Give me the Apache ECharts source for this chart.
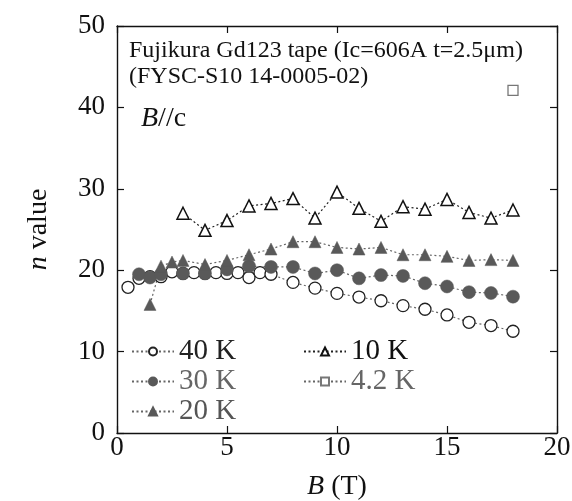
<!DOCTYPE html>
<html>
<head>
<meta charset="utf-8">
<script src="https://cdn.jsdelivr.net/npm/echarts@6/dist/echarts.min.js"></script>
<style>
  html, body { margin: 0; padding: 0; background: #fff; }
  #chart { width: 572px; height: 501px; }
</style>
</head>
<body>
<div id="chart"></div>
<script>
// n value vs applied field B for each temperature
const b40 = [0.5, 1, 1.5, 2, 2.5, 3, 3.5, 4, 4.5, 5, 5.5, 6, 6.5, 7, 8, 9, 10, 11, 12, 13, 14, 15, 16, 17, 18];
const n40 = [17.9, 19.0, 19.2, 19.2, 19.8, 19.6, 19.7, 19.6, 19.7, 19.6, 19.7, 19.1, 19.7, 19.5, 18.5, 17.8, 17.15, 16.7, 16.25, 15.65, 15.2, 14.5, 13.6, 13.2, 12.5];

const b30 = [1, 1.5, 2, 3, 4, 5, 6, 7, 8, 9, 10, 11, 12, 13, 14, 15, 16, 17, 18];
const n30 = [19.5, 19.1, 19.5, 19.6, 19.6, 20.1, 20.5, 20.4, 20.4, 19.6, 20.0, 19.0, 19.4, 19.3, 18.4, 18.0, 17.3, 17.2, 16.75];

const b20 = [1.5, 2, 2.5, 3, 4, 5, 6, 7, 8, 9, 10, 11, 12, 13, 14, 15, 16, 17, 18];
const n20 = [15.8, 20.5, 21.0, 21.2, 20.7, 21.2, 21.9, 22.6, 23.5, 23.5, 22.8, 22.6, 22.8, 21.9, 21.9, 21.7, 21.2, 21.3, 21.2];

const b10 = [3, 4, 5, 6, 7, 8, 9, 10, 11, 12, 13, 14, 15, 16, 17, 18];
const n10 = [27.0, 24.9, 26.1, 27.9, 28.2, 28.8, 26.4, 29.6, 27.6, 26.0, 27.8, 27.5, 28.7, 27.1, 26.4, 27.4];

const b4 = [18];
const n4 = [42.1];

const xTicks = [0, 5, 10, 15, 20];
const yTicks = [0, 10, 20, 30, 40, 50];

const FONT = "'Liberation Serif', 'Times New Roman', serif";
const pair = (xs, ys) => xs.map((x, i) => [x, ys[i]]);
const dotted = { type: [2, 2.5], color: '#666', width: 1.2 };

const chart = echarts.init(document.getElementById('chart'), null, { renderer: 'canvas' });

const axisBase = {
  type: 'value',
  axisLine: { show: true, onZero: false, lineStyle: { color: '#111', width: 1.4 } },
  axisTick: { show: true, inside: true, length: 7, lineStyle: { color: '#111', width: 1.2 } },
  splitLine: { show: false }
};

chart.setOption({
  animation: false,
  backgroundColor: '#fff',
  textStyle: { fontFamily: FONT },
  grid: { left: 117, top: 26, right: 15, bottom: 68, containLabel: false, outerBoundsMode: 'none' },
  title: [
    {
      text: 'Fujikura Gd123 tape (Ic=606A t=2.5μm)',
      left: 124, top: 34,
      textStyle: { fontFamily: FONT, fontSize: 24, fontWeight: 'normal', color: '#111' }
    },
    {
      text: '(FYSC-S10 14-0005-02)',
      left: 124, top: 60,
      textStyle: { fontFamily: FONT, fontSize: 24, fontWeight: 'normal', color: '#111' }
    },
    {
      text: '{i|B}{r|//c}',
      left: 136, top: 100,
      textStyle: {
        fontFamily: FONT, fontSize: 28, fontWeight: 'normal', color: '#111',
        rich: {
          i: { fontFamily: FONT, fontSize: 28, fontStyle: 'italic', color: '#111' },
          r: { fontFamily: FONT, fontSize: 28, color: '#111' }
        }
      }
    }
  ],
  xAxis: [
    Object.assign({}, axisBase, {
      min: 0, max: 20, interval: 5,
      name: '{i|B}{r| (T)}', nameLocation: 'middle', nameGap: 40,
      nameTextStyle: {
        fontFamily: FONT, fontSize: 28, color: '#111',
        rich: {
          i: { fontFamily: FONT, fontSize: 28, fontStyle: 'italic', color: '#111' },
          r: { fontFamily: FONT, fontSize: 28, color: '#111' }
        }
      },
      axisLabel: {
        fontFamily: FONT, fontSize: 27, color: '#111', margin: 1,
        formatter: v => xTicks.includes(v) ? String(v) : ''
      }
    }),
    Object.assign({}, axisBase, {
      min: 0, max: 20, interval: 5, position: 'top',
      axisLabel: { show: false }
    })
  ],
  yAxis: [
    Object.assign({}, axisBase, {
      min: 0, max: 50, interval: 10,
      name: '{i|n}{r| value}', nameLocation: 'middle', nameGap: 64, nameRotate: 90,
      nameTextStyle: {
        fontFamily: FONT, fontSize: 28, color: '#111',
        rich: {
          i: { fontFamily: FONT, fontSize: 28, fontStyle: 'italic', color: '#111' },
          r: { fontFamily: FONT, fontSize: 28, color: '#111' }
        }
      },
      axisLabel: {
        fontFamily: FONT, fontSize: 27, color: '#111', margin: 12,
        formatter: v => yTicks.includes(v) ? String(v) : ''
      }
    }),
    Object.assign({}, axisBase, {
      min: 0, max: 50, interval: 10, position: 'right',
      axisLabel: { show: false }
    })
  ],
  legend: [
    {
      orient: 'vertical', left: 131, top: 337,
      itemWidth: 42, itemHeight: 10, itemGap: 1, itemTextGap: 4, padding: 0,
      textStyle: { fontFamily: FONT, fontSize: 29 },
      data: [
        { name: '40 K', textStyle: { fontFamily: FONT, fontSize: 29, color: '#222' } },
        { name: '30 K', textStyle: { fontFamily: FONT, fontSize: 29, color: '#666' } },
        { name: '20 K', textStyle: { fontFamily: FONT, fontSize: 29, color: '#555' } }
      ]
    },
    {
      orient: 'vertical', left: 303, top: 337,
      itemWidth: 42, itemHeight: 10, itemGap: 1, itemTextGap: 5, padding: 0,
      textStyle: { fontFamily: FONT, fontSize: 29 },
      data: [
        { name: '10 K', textStyle: { fontFamily: FONT, fontSize: 29, color: '#111' } },
        { name: '4.2 K', textStyle: { fontFamily: FONT, fontSize: 29, color: '#666' } }
      ]
    }
  ],
  series: [
    {
      name: '40 K', type: 'line', data: pair(b40, n40),
      symbol: 'circle', symbolSize: 12,
      itemStyle: { color: '#fff', borderColor: '#222', borderWidth: 1.3 },
      lineStyle: dotted
    },
    {
      name: '30 K', type: 'line', data: pair(b30, n30),
      symbol: 'circle', symbolSize: 13,
      itemStyle: { color: '#595959', borderColor: '#595959', borderWidth: 0.5 },
      lineStyle: dotted
    },
    {
      name: '20 K', type: 'line', data: pair(b20, n20),
      symbol: 'triangle', symbolSize: 12,
      itemStyle: { color: '#595959', borderColor: '#595959', borderWidth: 0.5 },
      lineStyle: dotted
    },
    {
      name: '10 K', type: 'line', data: pair(b10, n10),
      symbol: 'triangle', symbolSize: 12,
      itemStyle: { color: '#fff', borderColor: '#111', borderWidth: 1.5 },
      lineStyle: { type: [2, 2.5], color: '#222', width: 1.2 }
    },
    {
      name: '4.2 K', type: 'line', data: pair(b4, n4),
      symbol: 'rect', symbolSize: 10,
      itemStyle: { color: '#fff', borderColor: '#777', borderWidth: 1.3 },
      lineStyle: dotted
    }
  ]
});
</script>
</body>
</html>
